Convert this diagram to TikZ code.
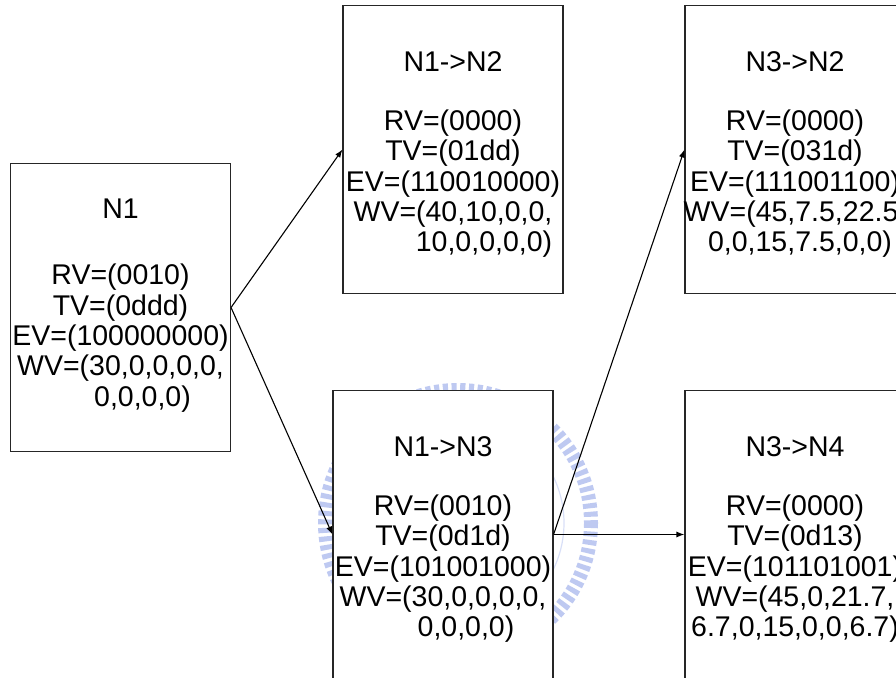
\documentclass[tikz,border=0pt]{standalone}
\usepackage{fontspec}
\setmainfont{Liberation Sans}
\usetikzlibrary{arrows.meta}

\definecolor{wmblue}{RGB}{125,148,228}

\tikzset{
  statebox/.style={draw=black!85, line width=1.1pt, fill=white, rectangle,
    minimum width=220pt, minimum height=288pt, inner sep=0pt},
  statetext/.style={align=center, inner sep=0pt,
    font=\fontsize{28.5}{30.3}\selectfont},
  link/.style={draw=black, line width=1.1pt,
    -{Latex[length=8pt,width=6pt]}},
  seal/.style={draw=wmblue, opacity=0.5}
}

\begin{document}
\begin{tikzpicture}[x=1pt,y=-1pt]
\useasboundingbox (0,0) rectangle (896,677);
\clip (0,0) rectangle (896,677);

% faint seal in the background
\draw[seal, line width=14pt, dash pattern=on 5pt off 3.5pt] (458,523) circle (133);
\draw[seal, line width=1.2pt, opacity=0.3] (458,523) circle (106);

% state boxes
\node[statebox] (n1)  at (120.5,307.5) {};
\node[statebox] (n12) at (453,149.5) {};
\node[statebox] (n32) at (795,149.5) {};
\node[statebox] (n13) at (443,534.5) {};
\node[statebox] (n34) at (795,534.5) {};

% box contents
\node[statetext, yshift=2pt] (t1) at (n1.center) {N1\\[36pt]RV=(0010)\\TV=(0ddd)\\EV=(100000000)\\WV=(30,0,0,0,0,\\\hspace*{44pt}0,0,0,0)};
\node[statetext, yshift=-5pt] (t12) at (n12.center) {N1->N2\\[29pt]RV=(0000)\\TV=(01dd)\\EV=(110010000)\\WV=(40,10,0,0,\\\hspace*{62pt}10,0,0,0,0)};
\node[statetext, yshift=-5pt] (t32) at (n32.center) {N3->N2\\[29pt]RV=(0000)\\TV=(031d)\\EV=(111001100)\\WV=(45,7.5,22.5,\\\hspace*{10pt}0,0,15,7.5,0,0)};
\node[statetext, yshift=-5pt] (t13) at (n13.center) {N1->N3\\[29pt]RV=(0010)\\TV=(0d1d)\\EV=(101001000)\\WV=(30,0,0,0,0,\\\hspace*{46pt}0,0,0,0)};
\node[statetext, yshift=-5pt] (t34) at (n34.center) {N3->N4\\[29pt]RV=(0000)\\TV=(0d13)\\EV=(101101001)\\WV=(45,0,21.7,\\6.7,0,15,0,0,6.7)};

% transitions
\draw[link] (n1.east) -- (n12.west);
\draw[link] (n1.east) -- (n13.west);
\draw[link] (n13.east) -- (n32.west);
\draw[link] (n13.east) -- (n34.west);
\end{tikzpicture}
\end{document}
